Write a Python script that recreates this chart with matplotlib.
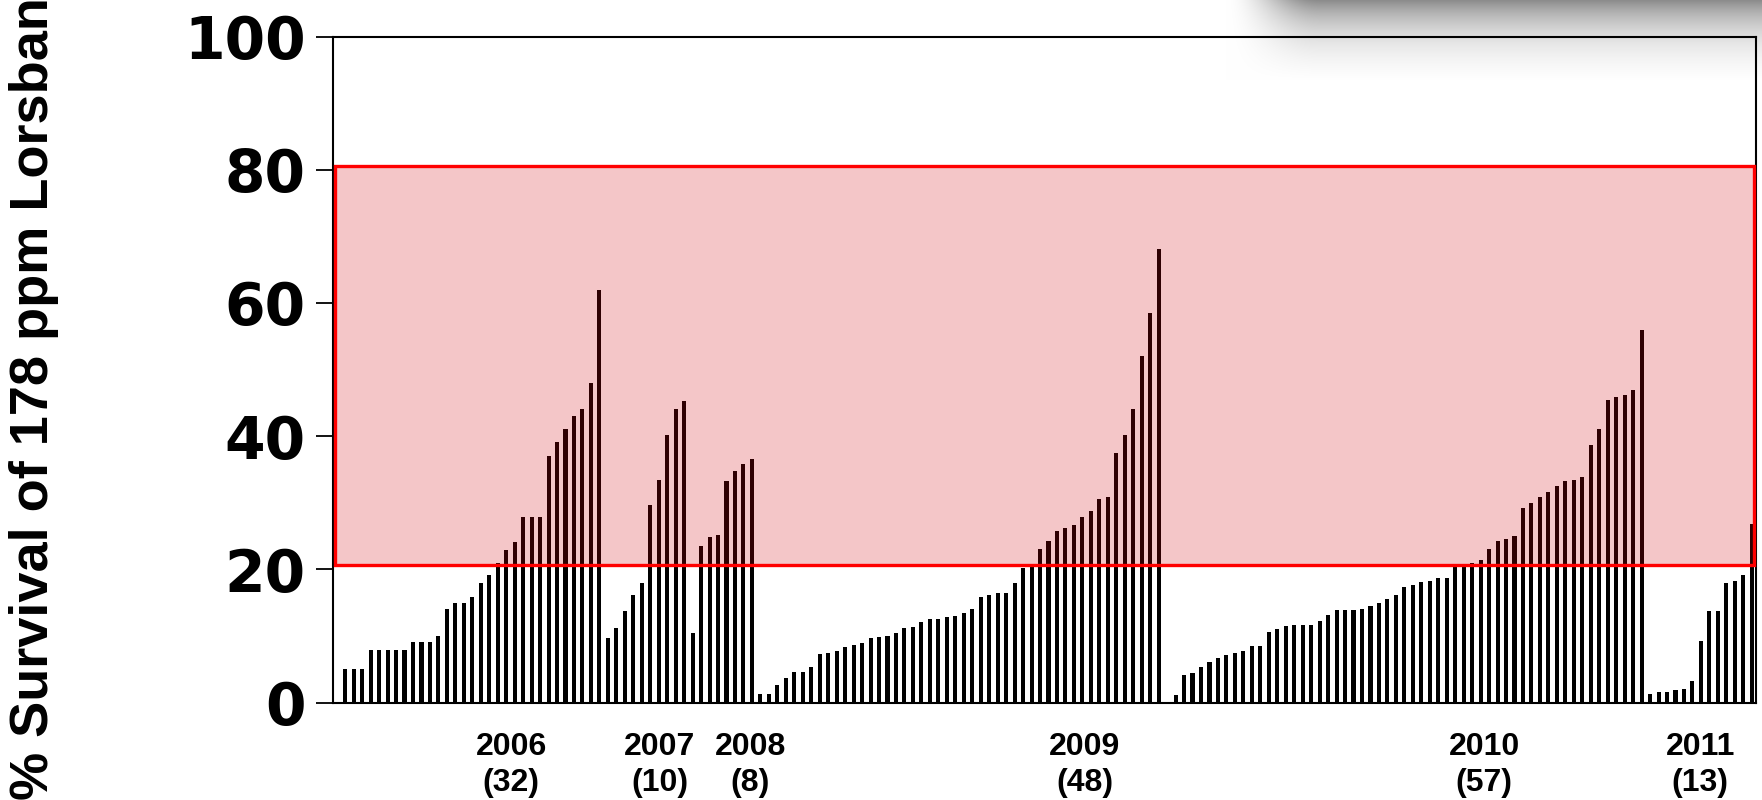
import numpy as np
import matplotlib
matplotlib.use('Agg')
import matplotlib.pyplot as plt
from matplotlib.patches import Rectangle

# survival values per population, sorted within each year
y2006 = [0, 5.0, 5.0, 5.0, 7.9, 7.9, 7.9, 7.9, 7.9, 9.1, 9.1, 9.1, 10.0, 14.0, 15.0, 15.0,
         15.9, 17.9, 19.1, 21.0, 22.9, 24.1, 27.9, 27.9, 27.9, 37.0, 39.1, 41.0, 43.0, 44.1, 47.9, 61.9]
y2007 = [9.7, 11.2, 13.7, 16.2, 17.9, 29.7, 33.4, 40.1, 44.0, 45.2]
y2008 = [10.4, 23.5, 24.8, 25.1, 33.2, 34.8, 35.8, 36.6]
y2009 = [1.3, 1.3, 2.7, 3.7, 4.6, 4.6, 5.4, 7.3, 7.5, 7.7, 8.3, 8.7, 8.9, 9.7, 9.9, 10.0,
         10.4, 11.2, 11.4, 12.1, 12.6, 12.6, 12.8, 13.0, 13.5, 14.0, 15.8, 16.2, 16.4, 16.4,
         17.9, 20.2, 20.8, 23.1, 24.2, 25.8, 26.2, 26.6, 27.9, 28.7, 30.6, 30.9, 37.5, 40.1,
         44.1, 52.1, 58.5, 68.1]
y2010 = [0, 1.1, 4.2, 4.4, 5.4, 6.1, 6.7, 7.2, 7.5, 7.7, 8.5, 8.5, 10.6, 11.1, 11.5, 11.7,
         11.7, 11.7, 12.3, 13.1, 13.9, 13.9, 13.9, 14.0, 14.5, 15.0, 15.6, 16.1, 17.3, 17.7,
         18.1, 18.3, 18.7, 18.7, 20.6, 20.7, 21.0, 21.4, 23.1, 24.3, 24.6, 25.0, 29.2, 30.0,
         30.9, 31.6, 32.5, 33.2, 33.4, 33.9, 38.7, 41.0, 45.4, 45.8, 46.1, 46.9, 56.0]
y2011 = [1.3, 1.6, 1.6, 1.9, 2.1, 3.2, 9.3, 13.7, 13.7, 17.9, 18.3, 19.1, 26.8]

years = ['2006', '2007', '2008', '2009', '2010', '2011']
counts = ['(32)', '(10)', '(8)', '(48)', '(57)', '(13)']
label_pos = [20.6, 38.1, 48.8, 88.3, 135.4, 160.9]

box_low = 20.6
box_high = 80.6

heights = y2006 + y2007 + y2008 + y2009 + y2010 + y2011
x = np.arange(len(heights))

fig = plt.figure(figsize=(17.62, 8), dpi=100)

# soft grey shadow at the top right (slide artifact), drawn under the chart
sh = fig.add_axes([1180 / 1762, 1 - 80 / 800, 582 / 1762, 80 / 800], zorder=0)
gx = np.arange(582) + 1180
gy = np.arange(80)
fade = np.clip((gx - 1225) / 95.0, 0, 1)
fade = fade * fade * (3 - 2 * fade)
prof = 0.45 * np.exp(-gy / 32.0) - 0.45 * np.exp(-80 / 32.0) * gy / 80.0
dark = prof[:, None] * fade[None, :]
img = np.ones((80, 582, 3)) * (1 - dark[..., None])
sh.imshow(img, aspect='auto', interpolation='bilinear', vmin=0, vmax=1)
sh.axis('off')

ax = fig.add_axes([332.5 / 1762, 1 - 702.5 / 800, (1756 - 332.5) / 1762, 666 / 800], zorder=1)
ax.patch.set_alpha(0)

ax.bar(x, heights, width=0.48, color='black', zorder=2)

rect = Rectangle((0.0015, box_low), 0.997, box_high - box_low,
                 transform=ax.get_yaxis_transform(), facecolor=(0.81, 0, 0.04, 0.224),
                 edgecolor='#ff0000', linewidth=2.4, zorder=3, clip_on=False)
ax.add_patch(rect)

ax.set_xlim(-0.5, len(heights) - 0.5)
ax.set_ylim(0, 100)
ax.set_xticks([])
ax.set_yticks([0, 20, 40, 60, 80, 100])
ax.tick_params(axis='y', length=12.2, width=1.3, direction='out', pad=7)
for lab in ax.get_yticklabels():
    lab.set_fontfamily('DejaVu Sans')
    lab.set_fontweight('bold')
    lab.set_fontsize(42)
for sp in ax.spines.values():
    sp.set_linewidth(1.5)
    sp.set_color('black')

for xp, yr, n in zip(label_pos, years, counts):
    ax.text(xp, -0.067, yr, transform=ax.get_xaxis_transform(), ha='center', va='center',
            fontsize=23, fontweight='bold', family='Liberation Sans')
    ax.text(xp, -0.121, n, transform=ax.get_xaxis_transform(), ha='center', va='center',
            fontsize=23, fontweight='bold', family='Liberation Sans')

fig.text(34.5 / 1762, 0.5 / 800, '% Survival of 178 ppm Lorsban', rotation=90,
         ha='center', va='bottom', fontsize=39, fontweight='bold', family='Liberation Sans')

fig.savefig('out.png', dpi=100)
